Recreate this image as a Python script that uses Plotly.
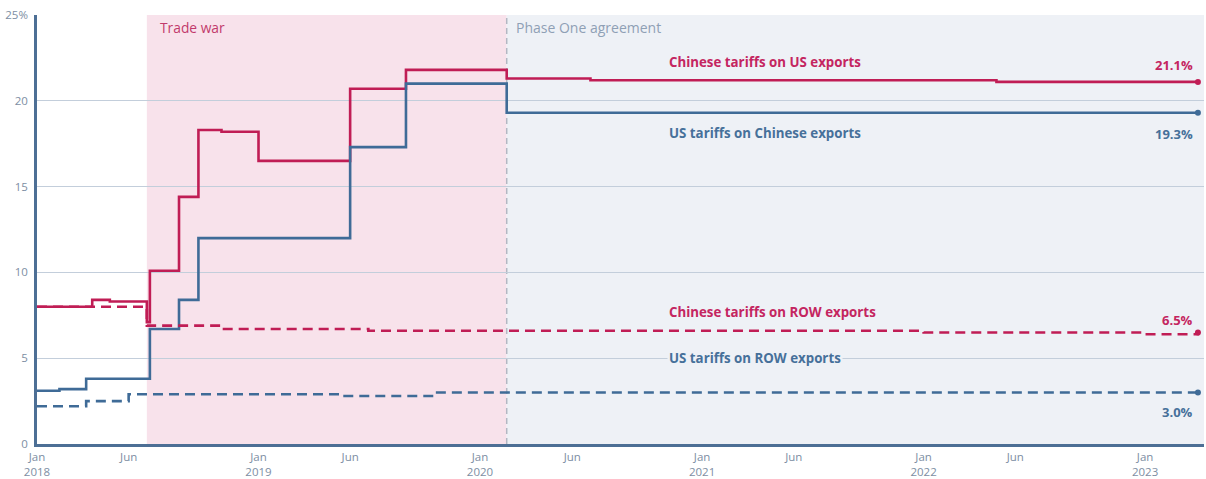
import plotly.graph_objects as go

# ---------------- data ----------------
cn_on_us_dates = ["2018-01-01", "2018-04-02", "2018-05-01", "2018-07-01", "2018-07-06", "2018-08-23",
                  "2018-09-24", "2018-11-01", "2019-01-01", "2019-06-01", "2019-09-01", "2020-02-14",
                  "2020-07-01", "2022-05-01", "2023-03-29"]
cn_on_us_vals = [8.0, 8.4, 8.3, 7.1, 10.1, 14.4, 18.3, 18.2, 16.5, 20.7, 21.8, 21.3, 21.2, 21.1, 21.1]

us_on_cn_dates = ["2018-01-01", "2018-02-07", "2018-03-23", "2018-07-06", "2018-08-23", "2018-09-24",
                  "2019-06-01", "2019-09-01", "2020-02-14", "2023-03-29"]
us_on_cn_vals = [3.1, 3.2, 3.8, 6.7, 8.4, 12.0, 17.3, 21.0, 19.3, 19.3]

cn_on_row_dates = ["2018-01-01", "2018-07-01", "2018-11-01", "2019-07-01", "2022-01-01", "2023-01-01",
                   "2023-03-29"]
cn_on_row_vals = [8.0, 6.9, 6.7, 6.6, 6.5, 6.4, 6.5]

us_on_row_dates = ["2018-01-01", "2018-03-23", "2018-06-01", "2019-05-20", "2019-10-18", "2023-03-29"]
us_on_row_vals = [2.2, 2.5, 2.9, 2.8, 3.0, 3.0]

trade_war_start = "2018-07-01"
phase_one_start = "2020-02-14"
x_end = "2023-04-08"

xtick_vals = ["2018-01-01", "2018-06-01", "2019-01-01", "2019-06-01", "2020-01-01", "2020-06-01",
              "2021-01-01", "2021-06-01", "2022-01-01", "2022-06-01", "2023-01-01"]
xtick_text = ["Jan<br>2018", "Jun", "Jan<br>2019", "Jun", "Jan<br>2020", "Jun",
              "Jan<br>2021", "Jun", "Jan<br>2022", "Jun", "Jan<br>2023"]
ytick_vals = [0, 5, 10, 15, 20, 25]
ytick_text = ["0", "5", "10", "15", "20", "25%"]

# ---------------- style ----------------
RED = "#c01d55"
RED_TXT = "#c42560"
BLUE = "#3f6b97"
BLUE_TXT = "#46709a"
PINK = "#f8e2eb"
GREYBLUE = "#eef1f6"
GRID = "#c3cedb"
TICK = "#7d8ea3"
FONT = "Open Sans"

fig = go.Figure()

series = [
    (cn_on_us_dates, cn_on_us_vals, RED, "solid"),
    (us_on_cn_dates, us_on_cn_vals, BLUE, "solid"),
    (cn_on_row_dates, cn_on_row_vals, RED, "10px,6px"),
    (us_on_row_dates, us_on_row_vals, BLUE, "10px,6px"),
]
for xs, ys, col, dash in series:
    fig.add_trace(go.Scatter(x=xs, y=ys, mode="lines", line=dict(color=col, width=2.6, dash=dash, shape="hv"),
                             hoverinfo="skip", showlegend=False))
    fig.add_trace(go.Scatter(x=[xs[-1]], y=[ys[-1]], mode="markers", marker=dict(color=col, size=6),
                             hoverinfo="skip", showlegend=False))

# shaded periods
fig.add_shape(type="rect", xref="x", yref="y", x0=trade_war_start, x1=phase_one_start, y0=0, y1=25,
              fillcolor=PINK, line_width=0, layer="below")
fig.add_shape(type="rect", xref="x", yref="y", x0=phase_one_start, x1=x_end, y0=0, y1=25,
              fillcolor=GREYBLUE, line_width=0, layer="below")
fig.add_shape(type="line", xref="x", yref="y", x0=phase_one_start, x1=phase_one_start, y0=0, y1=25,
              line=dict(color="#b3b7c2", width=1.5, dash="6px,4px"), layer="below")

ann = [
    ("2018-07-20", 24.25, "Trade war", "#c23a6c", False, "left", 13.8),
    ("2020-02-26", 24.25, "Phase One agreement", "#8fa0b5", False, "left", 14),
    ("2020-11-04", 22.25, "Chinese tariffs on US exports", RED_TXT, True, "left", 13.3),
    ("2020-11-04", 18.1, "US tariffs on Chinese exports", BLUE_TXT, True, "left", 13.3),
    ("2020-11-04", 7.7, "Chinese tariffs on ROW exports", RED_TXT, True, "left", 13.3),
    ("2020-11-04", 5.0, "US tariffs on ROW exports", BLUE_TXT, True, "left", 13.3),
    ("2023-03-24", 22.1, "21.1%", RED_TXT, True, "right", 13),
    ("2023-03-24", 18.05, "19.3%", BLUE_TXT, True, "right", 13),
    ("2023-03-24", 7.2, "6.5%", RED_TXT, True, "right", 13),
    ("2023-03-24", 1.85, "3.0%", BLUE_TXT, True, "right", 13),
]
for x, y, t, c, bold, anchor, sz in ann:
    fig.add_annotation(x=x, y=y, xref="x", yref="y", text=f"<b>{t}</b>" if bold else t,
                       showarrow=False, xanchor=anchor, yanchor="middle",
                       font=dict(family=FONT, size=sz, color=c),
                       bgcolor=GREYBLUE if t.startswith("US tariffs on ROW") else None,
                       borderpad=1)

fig.update_layout(
    width=1206, height=479,
    margin=dict(l=37, r=2, t=15, b=35),
    plot_bgcolor="white", paper_bgcolor="white",
    font=dict(family=FONT, size=11.5, color=TICK),
    xaxis=dict(type="date", range=["2018-01-01", x_end], tickvals=xtick_vals, ticktext=xtick_text,
               showgrid=False, zeroline=False, showline=True, linecolor="#4d6f95", linewidth=2.5,
               ticks="", automargin=False, tickfont=dict(size=11.5, color=TICK)),
    yaxis=dict(range=[0, 25], tickvals=ytick_vals, ticktext=ytick_text, showgrid=True, gridcolor=GRID,
               gridwidth=1, zeroline=False, showline=True, linecolor="#4d6f95", linewidth=2.5,
               ticks="", automargin=False, ticklabelstandoff=4, tickfont=dict(size=11.5, color=TICK)),
)

fig.write_html("out.html")
